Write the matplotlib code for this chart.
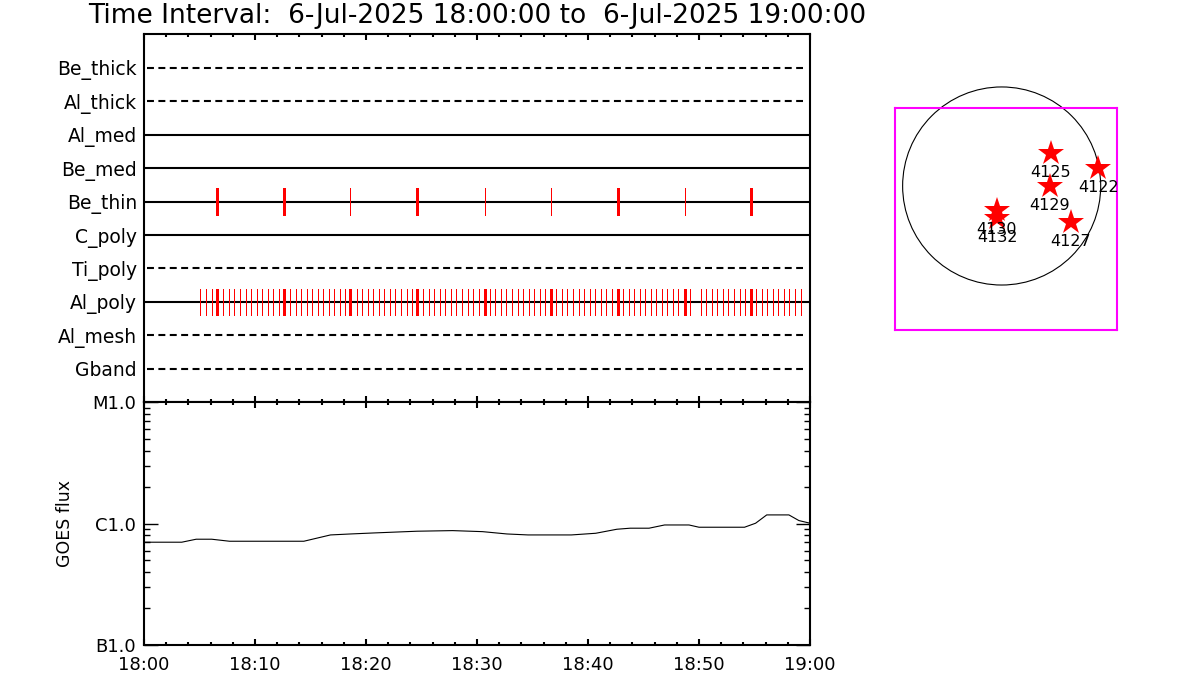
"""Filter-wheel timeline with GOES flux and active region map."""

import matplotlib
matplotlib.use("Agg")
import matplotlib.pyplot as plt
import matplotlib.ticker as mticker
from matplotlib.patches import Circle

plt.rcParams["font.family"] = ["DejaVu Sans"]
plt.rcParams["lines.scale_dashes"] = False

TITLE = "Time Interval:  6-Jul-2025 18:00:00 to  6-Jul-2025 19:00:00"

# filter rows, top to bottom; solid line = filter in use, dashed = not
filters = ["Be_thick", "Al_thick", "Al_med", "Be_med", "Be_thin",
           "C_poly", "Ti_poly", "Al_poly", "Al_mesh", "Gband"]
filter_used = [False, False, True, True, True, True, False, True, False, False]

# minutes after 18:00
be_thin_times = [6.6, 12.6, 18.6, 24.6, 30.7, 36.7, 42.7, 48.7, 54.7]
be_thin_heavy = [True, True, False, True, False, False, True, False, True]

al_poly_times = [
    5.0, 5.55, 6.1,
    7.15, 7.65, 8.15, 8.65, 9.15, 9.65, 10.15, 10.65, 11.15, 11.65, 12.15,
    13.15, 13.65, 14.15, 14.65, 15.15, 15.65, 16.15, 16.65, 17.15, 17.65, 18.15,
    19.15, 19.65, 20.15, 20.65, 21.15, 21.65, 22.15, 22.65, 23.15, 23.65, 24.15,
    25.15, 25.65, 26.15, 26.65, 27.15, 27.65, 28.15, 28.65, 29.15, 29.65, 30.15,
    31.15, 31.65, 32.15, 32.65, 33.15, 33.65, 34.15, 34.65, 35.15, 35.65, 36.15,
    37.15, 37.65, 38.15, 38.65, 39.15, 39.65, 40.15, 40.65, 41.15, 41.65, 42.15,
    43.15, 43.65, 44.15, 44.65, 45.15, 45.65, 46.15, 46.65, 47.15, 47.65, 48.15,
    49.15, 50.15, 50.65, 51.15, 51.65, 52.15, 52.65, 53.15, 53.65, 54.15,
    55.15, 55.65, 56.15, 56.65, 57.15, 57.65, 58.15, 58.65, 59.15,
]
al_poly_heavy_times = be_thin_times

goes_min = [0, 3.4, 4.7, 6.1, 7.7, 14.4, 16.8, 18.6, 20.7, 24.6, 27.8, 30.5,
            32.7, 34.6, 38.5, 40.7, 42.6, 43.8, 45.5, 46.9, 49.1, 50.0, 54.1,
            55.1, 56.1, 58.1, 59.0, 60]
goes_flux = [7.03e-7, 7.03e-7, 7.44e-7, 7.44e-7, 7.16e-7, 7.16e-7, 8.07e-7,
             8.22e-7, 8.38e-7, 8.66e-7, 8.76e-7, 8.59e-7, 8.22e-7, 8.07e-7,
             8.07e-7, 8.33e-7, 8.99e-7, 9.17e-7, 9.17e-7, 9.75e-7, 9.75e-7,
             9.34e-7, 9.34e-7, 1.008e-6, 1.18e-6, 1.18e-6, 1.06e-6, 1.008e-6]
goes_ticks = [1e-7, 1e-6, 1e-5]
goes_labels = ["B1.0", "C1.0", "M1.0"]

time_ticks = [0, 10, 20, 30, 40, 50, 60]
time_labels = ["18:00", "18:10", "18:20", "18:30", "18:40", "18:50", "19:00"]

# active regions, solar x / y in arcsec
ar_numbers = ["4125", "4122", "4129", "4130", "4132", "4127"]
ar_x = [478, 937, 468, -48, -43, 669]
ar_y = [317, 172, 0, -233, -313, -352]
SUN_RADIUS = 960

fig = plt.figure(figsize=(12, 7), dpi=100)

# ---- filter timeline
ax1 = fig.add_axes([0.12, 0.4253, 0.555, 0.5257])
nrow = len(filters)
rows = list(range(nrow, 0, -1))
for y, used in zip(rows, filter_used):
    if used:
        ax1.axhline(y, color="black", lw=1.5, zorder=1)
    else:
        ax1.axhline(y, xmin=0.004, xmax=0.99, color="black", lw=1.5,
                    dashes=(5, 3.2), zorder=1)


def _ticks(ax, times, y, lw):
    for t in times:
        ax.plot([t, t], [y - 0.4, y + 0.4], color="red", lw=lw,
                solid_capstyle="butt", antialiased=False, zorder=2)


y_be = rows[filters.index("Be_thin")]
y_al = rows[filters.index("Al_poly")]
_ticks(ax1, [t for t, h in zip(be_thin_times, be_thin_heavy) if h], y_be, 1.9)
_ticks(ax1, [t for t, h in zip(be_thin_times, be_thin_heavy) if not h], y_be, 0.5)
_ticks(ax1, al_poly_times, y_al, 0.5)
_ticks(ax1, al_poly_heavy_times, y_al, 1.9)

ax1.set_xlim(0, 60)
ax1.set_ylim(0, nrow + 1)
ax1.set_yticks(rows)
ax1.set_yticklabels(filters, fontsize=13.5)
ax1.tick_params(axis="y", length=0, pad=5)
ax1.xaxis.set_major_locator(mticker.MultipleLocator(10))
ax1.xaxis.set_minor_locator(mticker.MultipleLocator(2))
ax1.tick_params(axis="x", which="both", direction="in", top=True,
                bottom=True, labelbottom=False, width=1.5, color="black")
ax1.tick_params(axis="x", which="major", length=4.5)
ax1.tick_params(axis="x", which="minor", length=2.5)
for s in ax1.spines.values():
    s.set_linewidth(1.5)

fig.text(477 / 1200, 1 - 16 / 700, TITLE, ha="center", va="center",
         fontsize=19)

# ---- GOES flux
ax2 = fig.add_axes([0.12, 0.0786, 0.555, 0.3467])
ax2.plot(goes_min, goes_flux, color="black", lw=0.8)
ax2.set_yscale("log")
ax2.set_ylim(1e-7, 1e-5)
ax2.set_xlim(0, 60)
ax2.set_yticks(goes_ticks)
ax2.set_yticklabels(goes_labels, fontsize=13)
ax2.yaxis.set_minor_locator(mticker.LogLocator(base=10, subs=range(2, 10)))
ax2.yaxis.set_minor_formatter(mticker.NullFormatter())
ax2.tick_params(axis="y", which="both", direction="in", left=True,
                right=True, width=1.0, pad=6)
ax2.tick_params(axis="y", which="major", length=10)
ax2.tick_params(axis="y", which="minor", length=4.5)
ax2.set_xticks(time_ticks)
ax2.set_xticklabels(time_labels, fontsize=13)
ax2.xaxis.set_minor_locator(mticker.MultipleLocator(2))
ax2.tick_params(axis="x", which="both", direction="in", top=True,
                bottom=True, width=1.5, pad=8)
ax2.tick_params(axis="x", which="major", length=4.5)
ax2.tick_params(axis="x", which="minor", length=2.5)
for s in ax2.spines.values():
    s.set_linewidth(1.5)
fig.text(65.5 / 1200, 1 - 523.7 / 700, "GOES flux", rotation=90,
         ha="center", va="center", fontsize=12.5)

# ---- active region map
ax3 = fig.add_axes([895 / 1200, 1 - 330 / 700, 222 / 1200, 222 / 700])
ax3.set_xlim(-1034, 1118)
ax3.set_ylim(-1396, 756)
ax3.add_patch(Circle((0, 0), SUN_RADIUS, fill=False, color="black",
                     lw=0.8, clip_on=False))
ax3.plot(ar_x, ar_y, linestyle="none", marker="*", markersize=19,
         color="red", markeredgewidth=0)
for num, x, y in zip(ar_numbers, ar_x, ar_y):
    ax3.annotate(num, (x, y), xytext=(0, -13.7), textcoords="offset points",
                 ha="center", va="center", fontsize=11.5, annotation_clip=False)
ax3.set_xticks([])
ax3.set_yticks([])
for s in ax3.spines.values():
    s.set_color("#ff00ff")
    s.set_linewidth(1.5)

fig.savefig("out.png", dpi=100)
